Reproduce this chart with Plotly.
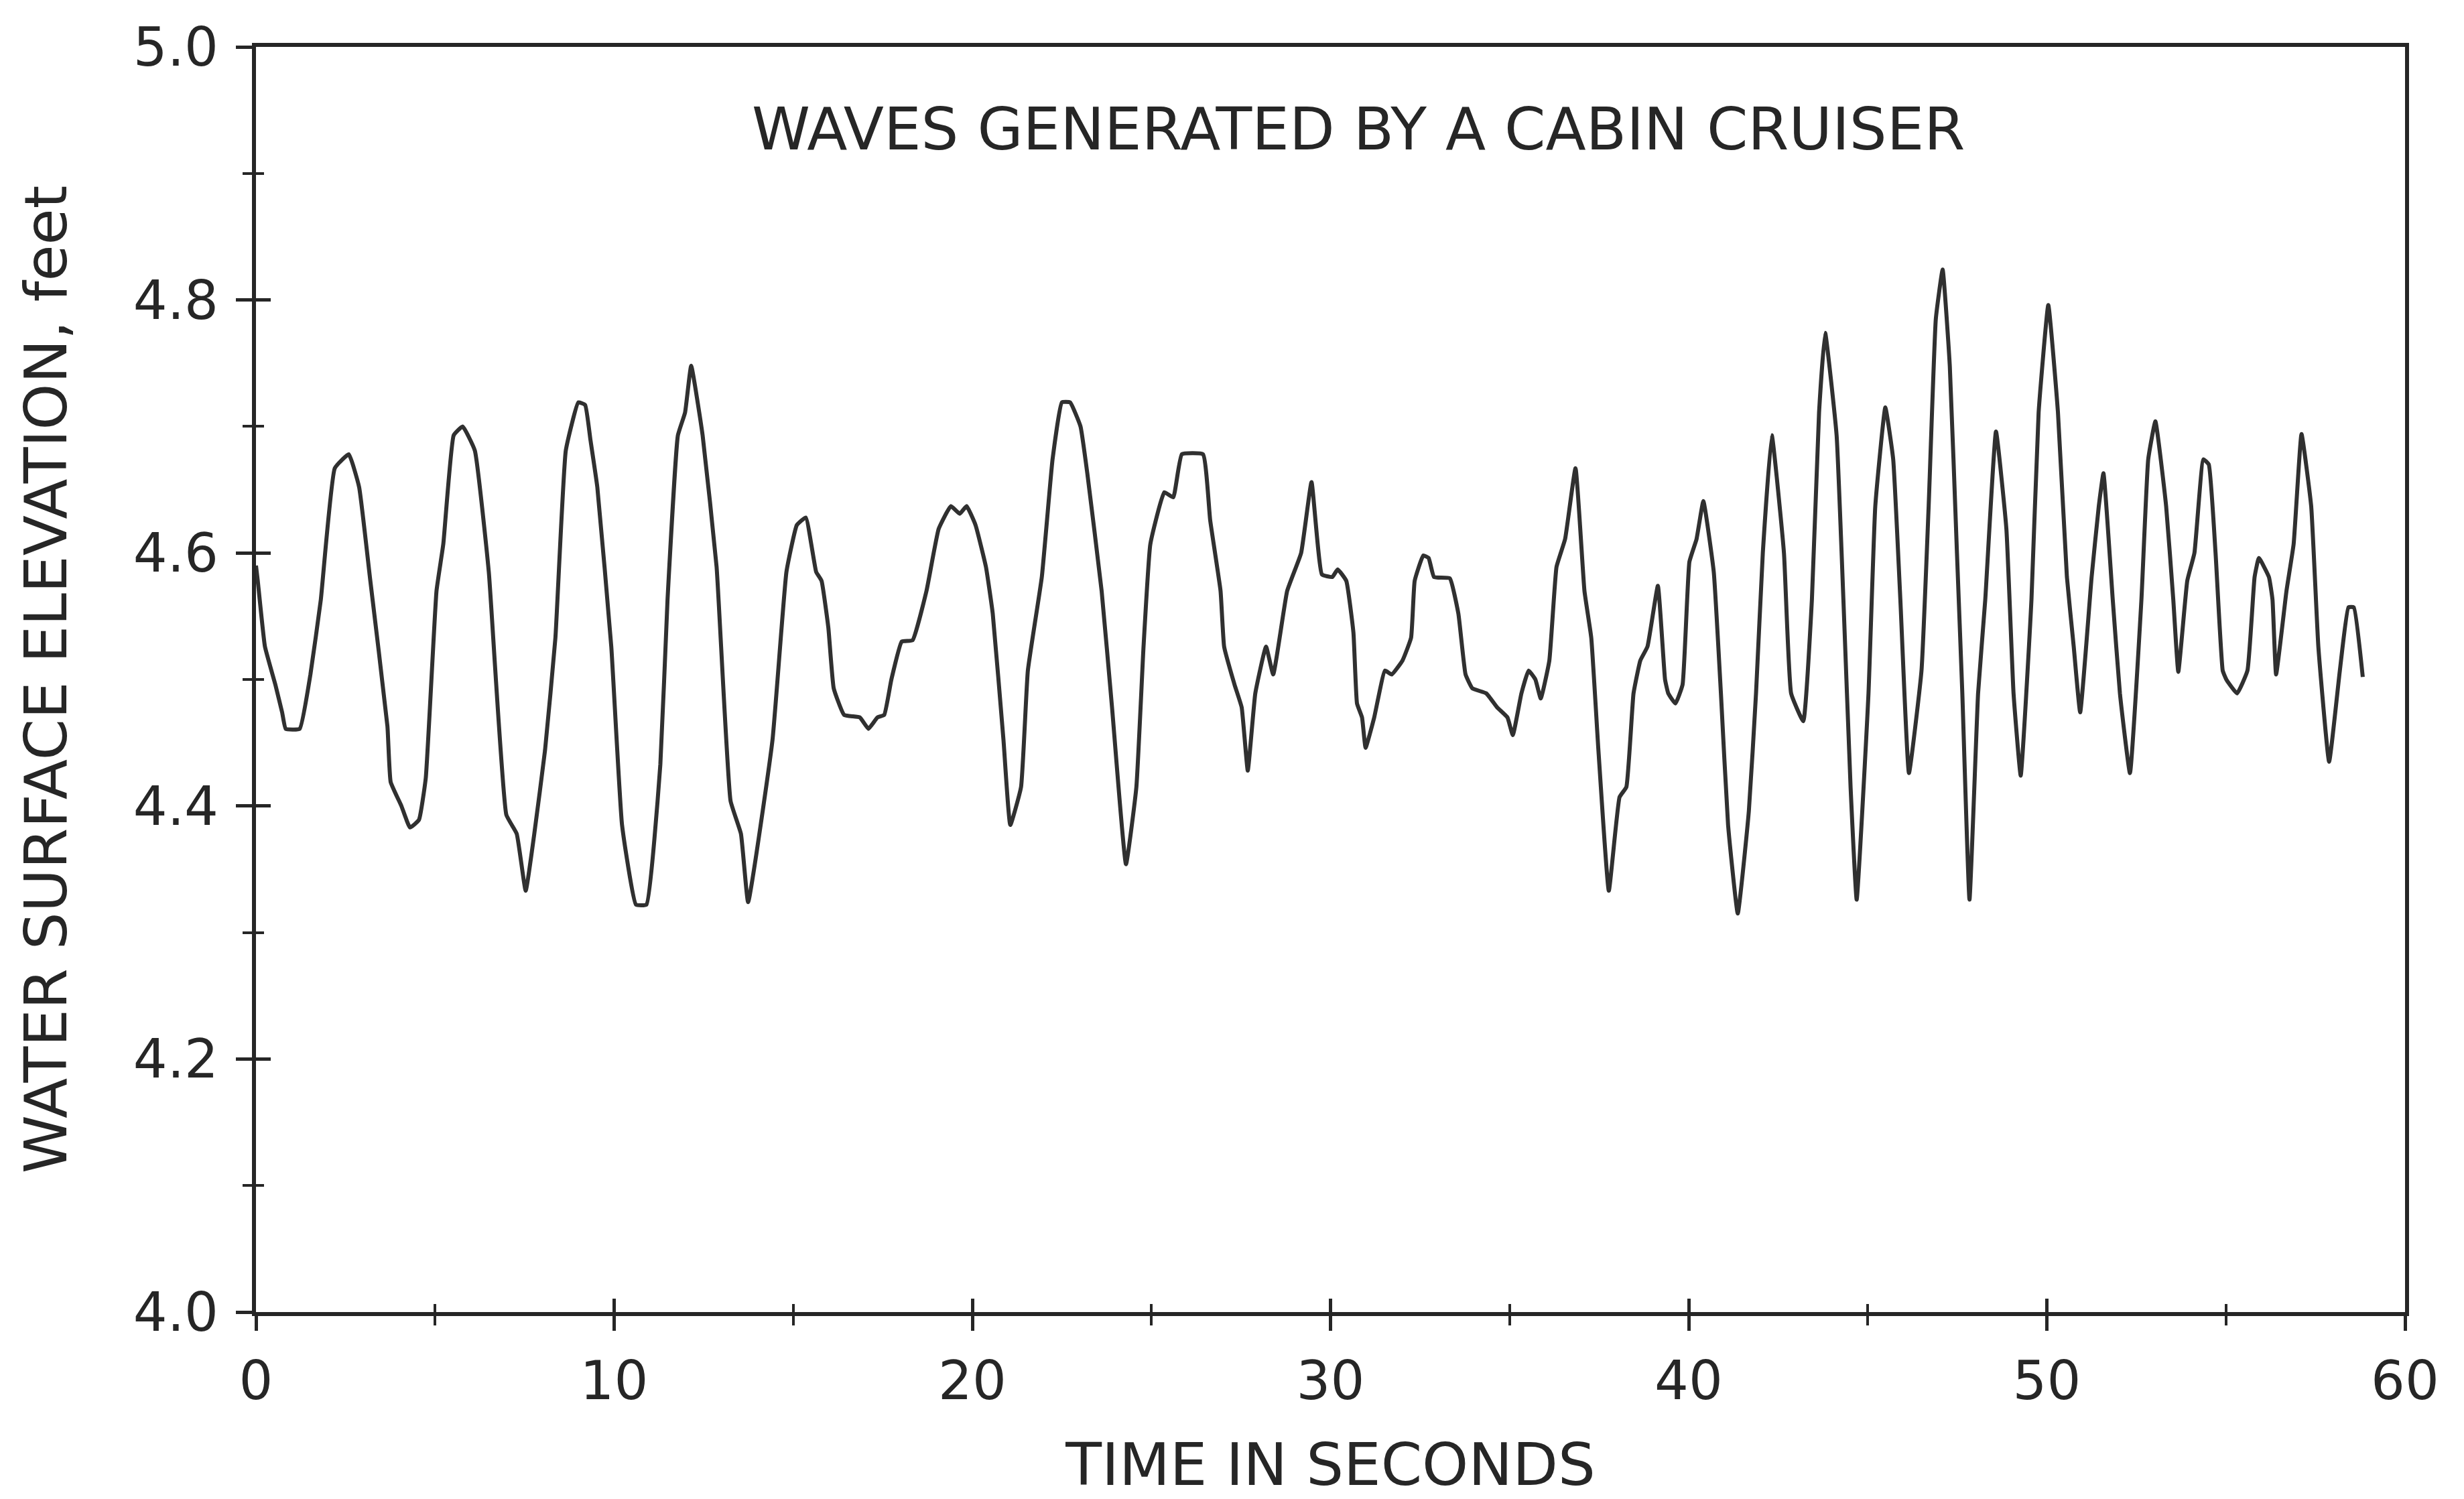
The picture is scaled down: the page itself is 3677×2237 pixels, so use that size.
import plotly.graph_objects as go

# Time (s) and water surface elevation (ft)
time_s = [
    0.0, 0.05, 0.25, 0.54, 0.73, 0.83, 1.22, 1.52, 1.81, 2.2, 2.59, 2.88, 3.18, 3.67, 3.76,
    4.06, 4.3, 4.55, 4.74, 5.04, 5.23, 5.52, 5.77, 6.11, 6.5, 6.99, 7.28, 7.53, 7.77, 8.07,
    8.36, 8.65, 9.0, 9.19, 9.34, 9.53, 9.92, 10.22, 10.61, 10.9, 11.29, 11.49, 11.78, 11.98,
    12.15, 12.47, 12.86, 13.25, 13.54, 13.74, 14.42, 14.81, 15.1, 15.35, 15.64, 15.79, 15.98,
    16.13, 16.42, 16.86, 17.1, 17.35, 17.54, 17.74, 18.03, 18.33, 18.72, 19.06, 19.4, 19.65,
    19.84, 20.09, 20.38, 20.57, 20.87, 21.06, 21.36, 21.55, 21.94, 22.24, 22.5, 22.73, 23.02,
    23.21, 23.61, 23.9, 24.29, 24.58, 24.78, 24.97, 25.36, 25.61, 25.85, 26.44, 26.64, 26.93,
    27.03, 27.32, 27.52, 27.69, 27.9, 28.2, 28.4, 28.79, 29.18, 29.47, 29.76, 30.05, 30.2,
    30.44, 30.64, 30.74, 30.88, 30.98, 31.22, 31.52, 31.71, 32.01, 32.25, 32.35, 32.59, 32.74,
    32.89, 33.33, 33.57, 33.77, 33.96, 34.35, 34.65, 34.94, 35.09, 35.33, 35.53, 35.72, 35.87,
    36.11, 36.31, 36.55, 36.84, 37.09, 37.28, 37.48, 37.77, 38.07, 38.26, 38.46, 38.65, 38.85,
    39.14, 39.34, 39.43, 39.63, 39.83, 40.02, 40.22, 40.41, 40.7, 40.9, 41.1, 41.37, 41.68,
    41.88, 42.07, 42.32, 42.66, 42.86, 43.2, 43.44, 43.64, 43.81, 44.13, 44.32, 44.52, 44.69,
    45.02, 45.21, 45.49, 45.71, 45.91, 46.15, 46.5, 46.7, 46.9, 47.09, 47.29, 47.49, 47.64,
    47.84, 48.08, 48.28, 48.58, 48.87, 49.07, 49.27, 49.57, 49.77, 50.04, 50.31, 50.56, 50.75,
    50.93, 51.25, 51.45, 51.58, 51.84, 52.04, 52.32, 52.64, 52.83, 53.03, 53.33, 53.53, 53.67,
    53.92, 54.12, 54.37, 54.52, 54.71, 54.91, 55.01, 55.31, 55.6, 55.8, 55.92, 56.2, 56.3,
    56.4, 56.69, 56.89, 57.11, 57.38, 57.58, 57.88, 58.18, 58.42, 58.57, 58.82,
]
elevation_ft = [
    4.59, 4.578, 4.526, 4.496, 4.474, 4.461, 4.461, 4.504, 4.563, 4.667, 4.678, 4.652, 4.581,
    4.463, 4.419, 4.40, 4.383, 4.389, 4.422, 4.57, 4.607, 4.693, 4.70, 4.681, 4.585, 4.393,
    4.378, 4.333, 4.378, 4.444, 4.533, 4.681, 4.719, 4.717, 4.689, 4.652, 4.526, 4.385, 4.322,
    4.322, 4.433, 4.563, 4.693, 4.711, 4.748, 4.693, 4.589, 4.404, 4.378, 4.324, 4.452, 4.585,
    4.622, 4.628, 4.585, 4.578, 4.541, 4.493, 4.472, 4.47, 4.461, 4.47, 4.472, 4.50, 4.53,
    4.531, 4.57, 4.619, 4.637, 4.631, 4.637, 4.622, 4.589, 4.552, 4.452, 4.385, 4.415, 4.507,
    4.581, 4.674, 4.719, 4.719, 4.70, 4.663, 4.57, 4.478, 4.354, 4.415, 4.526, 4.607, 4.648,
    4.644, 4.678, 4.678, 4.626, 4.57, 4.526, 4.496, 4.478, 4.428, 4.489, 4.526, 4.504, 4.57,
    4.60, 4.656, 4.583, 4.581, 4.587, 4.578, 4.537, 4.481, 4.47, 4.446, 4.47, 4.507, 4.504,
    4.515, 4.533, 4.578, 4.598, 4.596, 4.581, 4.58, 4.552, 4.504, 4.493, 4.489, 4.478, 4.47,
    4.456, 4.489, 4.507, 4.50, 4.485, 4.515, 4.589, 4.611, 4.667, 4.57, 4.533, 4.444, 4.333,
    4.407, 4.415, 4.489, 4.515, 4.526, 4.574, 4.50, 4.489, 4.481, 4.496, 4.593, 4.611, 4.641,
    4.585, 4.489, 4.385, 4.315, 4.396, 4.489, 4.60, 4.693, 4.60, 4.489, 4.467, 4.563, 4.711,
    4.774, 4.693, 4.563, 4.415, 4.326, 4.489, 4.637, 4.715, 4.674, 4.563, 4.426, 4.507, 4.637,
    4.785, 4.824, 4.748, 4.60, 4.489, 4.326, 4.489, 4.563, 4.696, 4.619, 4.489, 4.424, 4.563,
    4.711, 4.796, 4.711, 4.581, 4.526, 4.474, 4.581, 4.637, 4.663, 4.563, 4.489, 4.426, 4.563,
    4.674, 4.704, 4.637, 4.563, 4.506, 4.578, 4.60, 4.674, 4.67, 4.60, 4.507, 4.50, 4.489,
    4.507, 4.581, 4.596, 4.581, 4.563, 4.504, 4.57, 4.607, 4.694, 4.637, 4.526, 4.435, 4.507,
    4.557, 4.557, 4.502,
]

x_ticks = [0, 10, 20, 30, 40, 50, 60]
y_ticks = [4.0, 4.2, 4.4, 4.6, 4.8, 5.0]
y_tick_labels = ["4.0", "4.2", "4.4", "4.6", "4.8", "5.0"]

chart_title = "WAVES GENERATED BY A CABIN CRUISER"
x_title = "TIME IN SECONDS"
y_title = "WATER SURFACE ELEVATION, feet"

INK = "#262626"
FONT = "DejaVu Sans"
TITLE_SIZE = 88

fig = go.Figure()
fig.add_trace(go.Scatter(
    x=time_s, y=elevation_ft, mode="lines",
    line=dict(color="#303030", width=6, shape="spline", smoothing=0.35),
    showlegend=False, hoverinfo="skip",
))

axis_common = dict(showgrid=False, zeroline=False)

fig.update_layout(
    width=3677, height=2237,
    paper_bgcolor="white", plot_bgcolor="white",
    showlegend=False,
    margin=dict(l=382, r=88, t=70, b=279),
    font=dict(family=FONT, color=INK, size=80),
    xaxis=dict(
        **axis_common, range=[0, 60], tickvals=x_ticks,
        ticks="outside", ticklen=22, tickwidth=5, tickcolor=INK,
        minor=dict(dtick=5, ticks="outside", ticklen=14, tickwidth=4, tickcolor=INK),
        showline=True, linewidth=6, linecolor=INK, mirror=True,
        tickfont=dict(size=80, family=FONT, color=INK),
        ticklabelstandoff=6,
        title=dict(text=x_title, font=dict(size=TITLE_SIZE, family=FONT, color=INK), standoff=62),
        automargin=False,
    ),
    yaxis=dict(
        **axis_common, range=[4.0, 5.0], tickvals=y_ticks, ticktext=y_tick_labels,
        ticks="outside", ticklen=24, tickwidth=5, tickcolor=INK,
        minor=dict(dtick=0.1, ticks="outside", ticklen=14, tickwidth=4, tickcolor=INK),
        showline=True, linewidth=6, linecolor=INK, mirror=True,
        tickfont=dict(size=80, family=FONT, color=INK),
        ticklabelstandoff=10,
        title=dict(text=y_title, font=dict(size=TITLE_SIZE, family=FONT, color=INK), standoff=72),
        automargin=False,
    ),
    # overlay axes that carry the inward half of each tick, so ticks cross the frame
    xaxis2=dict(
        **axis_common, overlaying="x", anchor="y2", range=[0, 60],
        tickvals=x_ticks, showticklabels=False, side="bottom",
        ticks="inside", ticklen=20, tickwidth=5, tickcolor=INK,
        minor=dict(dtick=5, ticks="inside", ticklen=12, tickwidth=4, tickcolor=INK),
        showline=False,
    ),
    yaxis2=dict(
        **axis_common, overlaying="y", anchor="x2", range=[4.0, 5.0],
        tickvals=y_ticks, showticklabels=False, side="left",
        ticks="inside", ticklen=22, tickwidth=5, tickcolor=INK,
        minor=dict(dtick=0.1, ticks="inside", ticklen=12, tickwidth=4, tickcolor=INK),
        showline=False,
    ),
    annotations=[dict(
        text=chart_title, xref="paper", yref="paper", x=0.513, y=0.935,
        xanchor="center", yanchor="middle", showarrow=False,
        font=dict(size=TITLE_SIZE, family=FONT, color=INK),
    )],
)

# invisible carrier trace on the overlay axes so their inner tick marks are drawn
fig.add_trace(go.Scatter(x=[time_s[0]], y=[elevation_ft[0]], xaxis="x2", yaxis="y2",
                         mode="markers", marker=dict(opacity=0), showlegend=False,
                         hoverinfo="skip"))

fig.write_html("out.html")
